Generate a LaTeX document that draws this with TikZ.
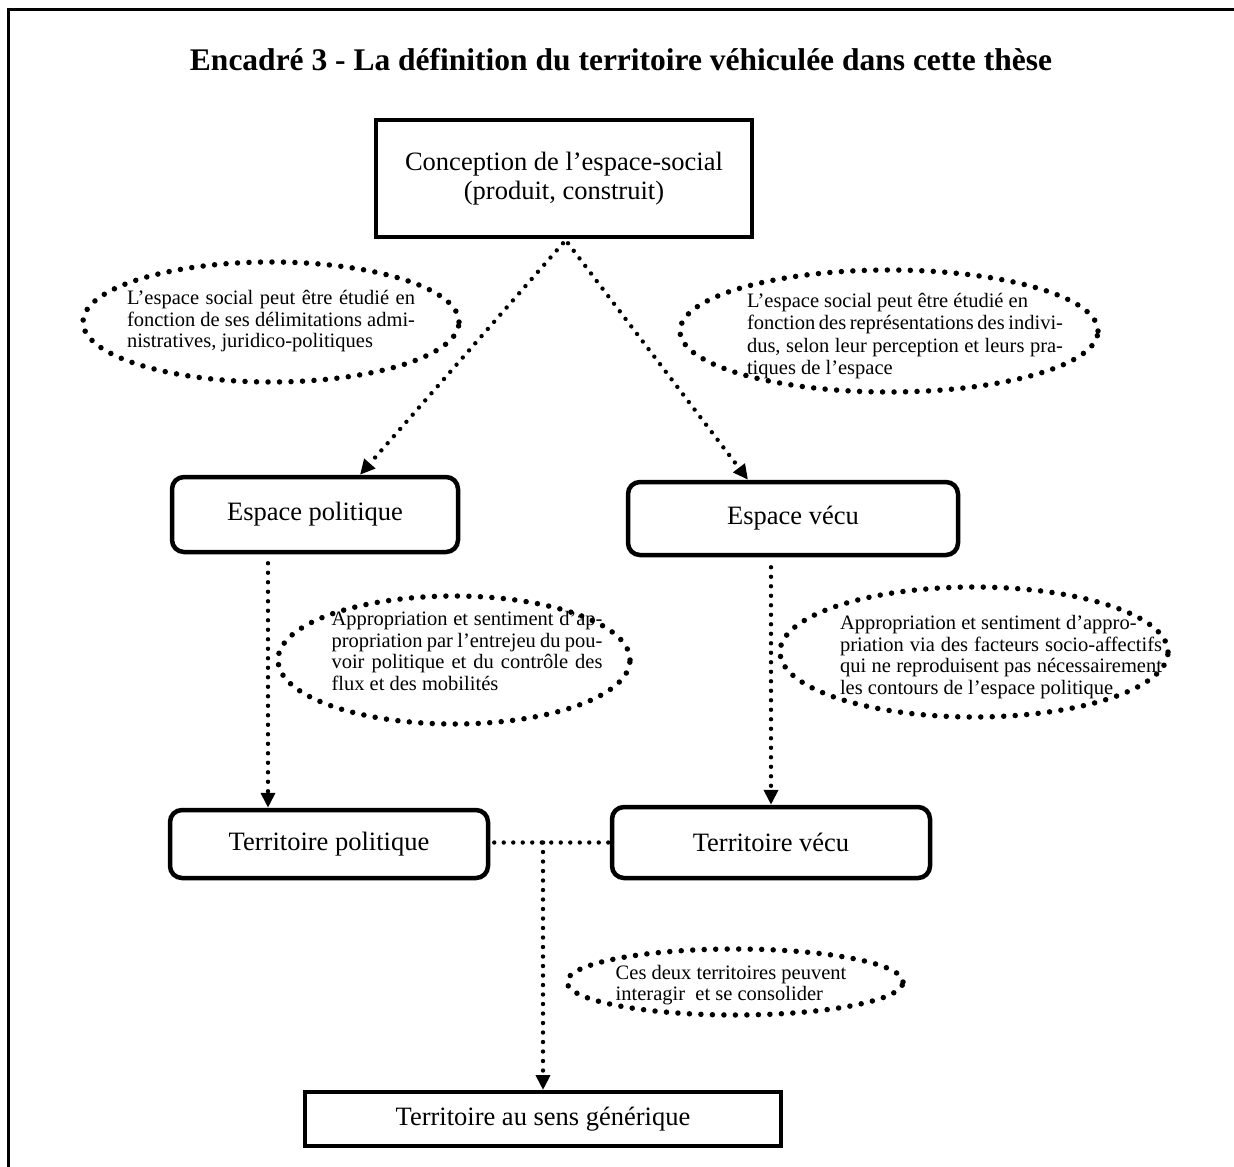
\documentclass[tikz,border=0pt]{standalone}
\usepackage{fontspec}
\setmainfont{Liberation Serif}
\usetikzlibrary{arrows.meta,calc,shapes.geometric}
\hyphenpenalty=10000
\tolerance=9999
\begin{document}
\begin{tikzpicture}[x=1pt,y=-1pt,
  box/.style={draw, line width=4.5pt, align=center, font=\fontsize{26.5}{29}\selectfont, inner sep=0pt},
  rbox/.style={box, rounded corners=12pt},
  bubble/.style={draw, ellipse, line width=5.5pt, dash pattern=on 0pt off 11.5pt, line cap=round, inner sep=0pt},
  btext/.style={font=\fontsize{20.5}{21.5}\selectfont, align=justify, inner sep=0pt},
  flow/.style={line width=4.4pt, dash pattern=on 0pt off 9.5pt, line cap=round, -{Triangle[length=15pt,width=14pt]}},
  link/.style={line width=4.4pt, dash pattern=on 0pt off 9.5pt, line cap=round},
]
\useasboundingbox (0,0) rectangle (1234,1167);
\draw[line width=2.8pt] (8.5,1167) -- (8.5,9.5) -- (1234,9.5);

\node[font=\fontsize{31.5}{36}\selectfont\bfseries, anchor=base] (title) at (621,70.5) {Encadré 3 - La définition du territoire véhiculée dans cette thèse};

\node[box, minimum width=376pt, minimum height=117pt] (c) at (564,178.5) {Conception de l’espace-social\\(produit, construit)};

\node[rbox, minimum width=286pt, minimum height=75pt] (ep) at (315,514.5) {Espace politique};
\node[rbox, minimum width=330pt, minimum height=73pt] (ev) at (793,518.5) {Espace vécu};
\node[rbox, minimum width=318pt, minimum height=68pt] (tp) at (329,844) {Territoire politique};
\node[rbox, minimum width=318pt, minimum height=71pt] (tv) at (771,842.5) {Territoire vécu};
\node[box, line width=4pt, minimum width=476pt, minimum height=54pt] (tg) at (543,1119) {Territoire au sens générique};

\node[bubble, minimum width=376pt, minimum height=120pt] (e1) at (271,322) {};
\node[btext, text width=288pt] (t1) at (271,321.5) {L’espace social peut être étudié en\linebreak fonction de ses délimitations admi-\linebreak nistratives, juridico-politiques};

\node[bubble, minimum width=418pt, minimum height=122pt] (e2) at (889,331) {};
\node[btext, font=\fontsize{20.5}{22.5}\selectfont, text width=316pt] (t2) at (905,336) {L’espace social peut être étudié en\\ fonction des représentations des indivi-\linebreak dus, selon leur perception et leurs pra-\linebreak tiques de l’espace};

\node[bubble, minimum width=352pt, minimum height=128pt] (e3) at (454,660) {};
\node[btext, text width=271pt] (t3) at (467,651) {Appropriation et sentiment d’ap-\linebreak propriation par l’entrejeu du pou-\linebreak voir politique et du contrôle des\linebreak flux et des mobilités};

\node[bubble, minimum width=388pt, minimum height=130pt] (e4) at (974,652) {};
\node[btext, text width=322pt] (t4) at (1001,657) {Appropriation et sentiment d’appro-\\ priation via des facteurs socio-affectifs\linebreak qui ne reproduisent pas nécessairement\linebreak les contours de l’espace politique};

\node[bubble, minimum width=336pt, minimum height=66pt] (e5) at (735,982) {};
\node[btext, align=left] (t5) at (731,985) {Ces deux territoires peuvent\\interagir\ \ et se consolider};

\draw[flow] ($(c.south)+(-1,4)$) -- ($(ep.north)+(45,0)$);
\draw[flow] ($(c.south)+(4,4)$) -- ($(ev.north)+(-45,0)$);
\draw[flow] ($(ep.south)+(-47,9)$) -- ($(tp.north)+(-61,0)$);
\draw[flow] ($(ev.south)+(-22,10)$) -- (tv.north);
\draw[link] ($(tp.east |- tv.west)+(4,0)$) -- (tv.west);
\coordinate (j) at (tg.north |- tv.west);
\draw[flow] (j) -- (tg.north);
\end{tikzpicture}
\end{document}
